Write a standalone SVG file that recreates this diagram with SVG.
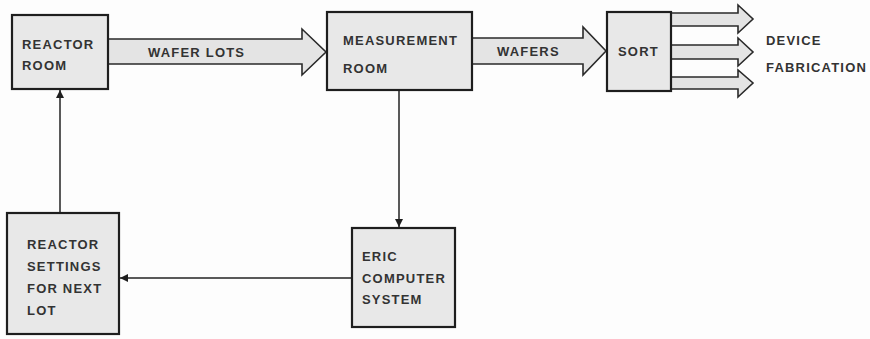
<svg xmlns="http://www.w3.org/2000/svg" width="870" height="339" viewBox="0 0 870 339">
<defs>
<style>
.box{fill:#e8e8e8;stroke:#1e1e1e;stroke-width:2.2}
.flow{fill:#e4e4e4;stroke:#2a2a2a;stroke-width:1.6;stroke-linejoin:miter}
.t{font-family:"Liberation Sans",Arial,sans-serif;font-size:13px;font-weight:bold;fill:#333;letter-spacing:1.2px}
.ln{stroke:#222;stroke-width:1.5;fill:none}
</style>
<marker id="ah" viewBox="0 0 10 10" refX="10" refY="5" markerWidth="8" markerHeight="8" markerUnits="userSpaceOnUse" orient="auto">
<path d="M0,0 L10,5 L0,10 z" fill="#1e1e1e"/>
</marker>
</defs>
<rect width="870" height="339" fill="#fdfdfd"/>

<g id="connectors">
<polygon class="flow" points="108,39 302,39 302,29 326,52 302,75 302,64 108,64"/>
<text class="t" x="148" y="57">WAFER LOTS</text>
<polygon class="flow" points="472,38 583,38 583,27 606,51 583,75 583,64 472,64"/>
<text class="t" x="497" y="56">WAFERS</text>
<polygon class="flow" points="671,13 738,13 738,5 753,19 738,33 738,26 671,26"/>
<polygon class="flow" points="671,45 738,45 738,38 753,52 738,66 738,59 671,59"/>
<polygon class="flow" points="671,77 738,77 738,70 753,83 738,97 738,89 671,89"/>
<line class="ln" x1="60" y1="213" x2="60" y2="90" marker-end="url(#ah)"/>
<line class="ln" x1="399" y1="90" x2="399" y2="227" marker-end="url(#ah)"/>
<line class="ln" x1="352" y1="278" x2="120" y2="278" marker-end="url(#ah)"/>
</g>

<g id="reactor-room">
<rect class="box" x="12" y="15" width="96" height="74"/>
<text class="t" x="22" y="49">REACTOR</text>
<text class="t" x="22" y="70">ROOM</text>
</g>

<g id="measurement-room">
<rect class="box" x="327" y="12" width="145" height="78"/>
<text class="t" x="343" y="45">MEASUREMENT</text>
<text class="t" x="343" y="73">ROOM</text>
</g>

<g id="sort">
<rect class="box" x="607" y="12" width="64" height="79"/>
<text class="t" x="618" y="56">SORT</text>
</g>

<g id="device-fabrication">
<text class="t" x="766" y="45">DEVICE</text>
<text class="t" x="766" y="72">FABRICATION</text>
</g>

<g id="reactor-settings">
<rect class="box" x="7" y="213" width="112" height="121"/>
<text class="t" x="27" y="249">REACTOR</text>
<text class="t" x="27" y="271">SETTINGS</text>
<text class="t" x="27" y="293">FOR NEXT</text>
<text class="t" x="27" y="315">LOT</text>
</g>

<g id="eric-computer-system">
<rect class="box" x="352" y="228" width="103" height="99"/>
<text class="t" x="362" y="261">ERIC</text>
<text class="t" x="362" y="283">COMPUTER</text>
<text class="t" x="362" y="304">SYSTEM</text>
</g>
</svg>
